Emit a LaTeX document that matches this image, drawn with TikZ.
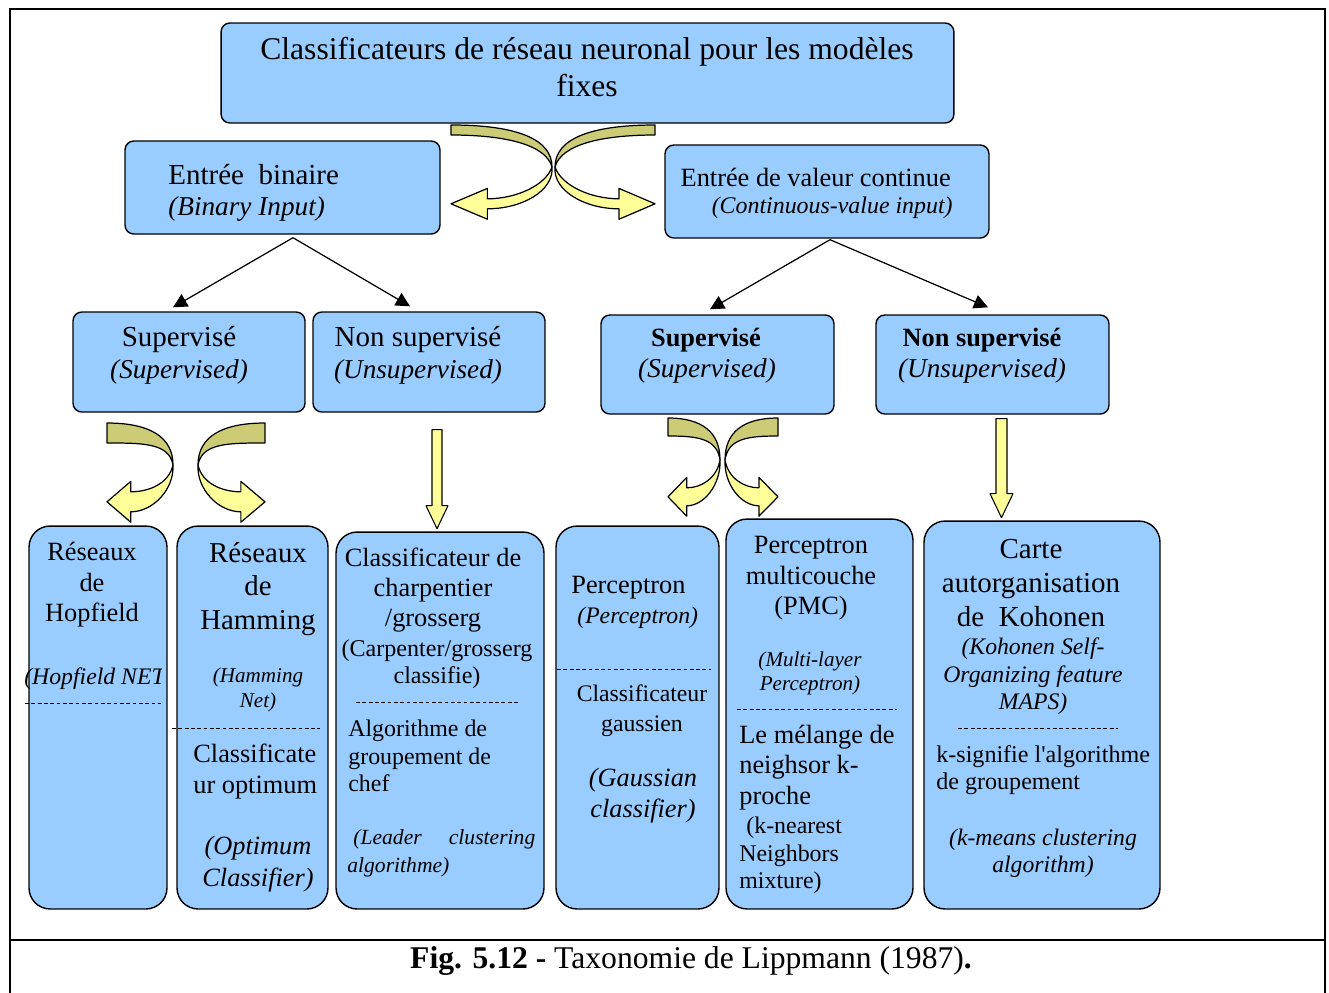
\documentclass[tikz,border=0pt]{standalone}
\usepackage{fontspec}
\setmainfont{Liberation Serif}[Ligatures=TeXOff]
\usetikzlibrary{arrows.meta, calc}

\definecolor{boxblue}{RGB}{153,204,255}
\definecolor{ribbonlight}{RGB}{255,255,153}
\definecolor{ribbondark}{RGB}{204,204,119}

\tikzset{
  box/.style={draw, line width=0.8pt, fill=boxblue, rounded corners=5pt, inner sep=0pt},
  tallbox/.style={box, rounded corners=12pt},
  conn/.style={line width=0.7pt, -{Triangle[length=8pt,width=8pt]}},
  sep/.style={dash pattern=on 2.2pt off 1.4pt, line width=0.5pt},
  yarrow/.style={draw, line width=0.6pt, fill=ribbonlight, line join=round},
  % twisted ribbon arrow, #1 = ribbon thickness
  pics/uturn/.style={code={
    \filldraw[fill=ribbondark, line width=0.7pt, line join=round]
      (-1,-1.05) .. controls (-0.35,-1.05) and (0,-0.7) .. (0,0)
      .. controls (-0.06,-0.55) and (-0.45,{-1.05+#1}) .. (-1,{-1.05+#1}) -- cycle;
    \filldraw[fill=ribbonlight, line width=0.7pt, line join=round]
      (0,0) .. controls (0.02,0.6) and (-0.3,{0.92+#1/2}) .. (-0.64,{0.92+#1/2})
      -- (-0.64,{1.18+#1/2}) -- (-1,0.92) -- (-0.64,{0.66-#1/2}) -- (-0.64,{0.92-#1/2})
      .. controls (-0.35,{0.92-#1/2}) and (-0.06,0.45) .. (0,0) -- cycle;
  }}
}

\begin{document}
\begin{tikzpicture}[x=0.02cm, y=-0.02cm, every node/.append style={inner sep=0pt}]
\useasboundingbox (0,0) rectangle (1329,992);

% Frame and caption rule
\draw[line width=1.2pt] (10,995) -- (10,9) -- (1325,9) -- (1325,995);
\draw[line width=1.2pt] (10,940) -- (1325,940);

% Top level
\node[box, minimum width=14.66cm, minimum height=2cm] (root) at (587.5,73) {};
\node[align=center, font=\fontsize{18}{21}\selectfont] (root-txt) at (587,67)
  {Classificateurs de réseau neuronal pour les modèles\\fixes};

% Input type
\node[box, minimum width=6.3cm, minimum height=1.86cm] (bin) at (282.5,187.5) {};
\node[anchor=west, font=\fontsize{16.5}{18}\selectfont] (bin-fr) at (168,175) {Entrée\ \ binaire};
\node[anchor=west, font=\fontsize{15.5}{18}\selectfont\itshape] (bin-en) at (168,209) {(Binary Input)};

\node[box, minimum width=6.48cm, minimum height=1.86cm] (cont) at (827,191.5) {};
\node[anchor=east, font=\fontsize{15}{17}\selectfont] (cont-fr) at (951,177) {Entrée de valeur continue};
\node[anchor=east, font=\fontsize{13.6}{17}\selectfont\itshape] (cont-en) at (953,208) {(Continuous-value input)};

% Supervised / unsupervised
\node[box, minimum width=4.64cm, minimum height=2cm] (sup1) at (189,362) {};
\node[font=\fontsize{16.5}{18}\selectfont] (sup1-fr) at (179,339) {Supervisé};
\node[font=\fontsize{15.5}{18}\selectfont\itshape] (sup1-en) at (179,372) {(Supervised)};

\node[box, minimum width=4.64cm, minimum height=2cm] (nsup1) at (429,362) {};
\node[font=\fontsize{16.5}{18}\selectfont] (nsup1-fr) at (418,339) {Non supervisé};
\node[font=\fontsize{15.5}{18}\selectfont\itshape] (nsup1-en) at (418,372) {(Unsupervised)};

\node[box, minimum width=4.66cm, minimum height=1.98cm] (sup2) at (717.5,364.5) {};
\node[font=\fontsize{15}{18}\selectfont\bfseries] (sup2-fr) at (706,340) {Supervisé};
\node[font=\fontsize{15.5}{18}\selectfont\itshape] (sup2-en) at (707,371) {(Supervised)};

\node[box, minimum width=4.66cm, minimum height=1.98cm] (nsup2) at (992.5,364.5) {};
\node[font=\fontsize{15}{18}\selectfont\bfseries] (nsup2-fr) at (982,340) {Non supervisé};
\node[font=\fontsize{15.5}{18}\selectfont\itshape] (nsup2-en) at (982,371) {(Unsupervised)};

\coordinate (binfoot) at ($(bin.south)+(10.5,3)$);
\coordinate (contfoot) at ($(cont.south)+(3,1)$);
\draw[conn] (binfoot) -- ($(sup1.north)+(-16,-4)$);
\draw[conn] (binfoot) -- ($(nsup1.north)+(-19,-5)$);
\draw[conn] (contfoot) -- ($(sup2.north)+(-7.5,-5)$);
\draw[conn] (contfoot) -- ($(nsup2.north)+(-4.5,-7)$);

% Classifiers
\node[tallbox, minimum width=2.76cm, minimum height=7.66cm] (hopf) at (98,717.5) {};
\node[tallbox, minimum width=3.02cm, minimum height=7.66cm] (hamm) at (252.5,717.5) {};
\node[tallbox, minimum width=4.16cm, minimum height=7.54cm] (carp) at (440,720.5) {};
\node[tallbox, minimum width=3.26cm, minimum height=7.66cm] (perc) at (637.5,717.5) {};
\node[tallbox, minimum width=3.74cm, minimum height=7.8cm] (pmc) at (819.5,714) {};
\node[tallbox, minimum width=4.72cm, minimum height=7.76cm] (koh) at (1042,715) {};

% Hopfield
\node[align=center, font=\fontsize{15}{17.3}\selectfont] (hopf-fr) at (92,585) {Réseaux\\de\\Hopfield};
\begin{scope}
  \clip (15,655) rectangle (161,700);
  \node[anchor=west, font=\fontsize{13.5}{15}\selectfont\itshape] (hopf-en) at (24,679) {(Hopfield NET)};
\end{scope}
\draw[sep] (25,703) -- (161,703);

% Hamming
\node[align=center, font=\fontsize{16.4}{19}\selectfont] (hamm-fr) at (258,589) {Réseaux\\de\\Hamming};
\node[align=center, font=\fontsize{12}{14.2}\selectfont\itshape] (hamm-en) at (258,690) {(Hamming\\Net)};
\draw[sep] (172,728) -- (320,728);
\node[anchor=west, align=left, font=\fontsize{15}{17.6}\selectfont] (opt-fr) at (193,771.5) {Classificate\\ur optimum};
\node[align=center, font=\fontsize{15}{18}\selectfont\itshape] (opt-en) at (258,864) {(Optimum\\Classifier)};

% Carpenter / Grossberg
\node[align=center, font=\fontsize{15}{17}\selectfont] (carp-fr) at (433,590) {Classificateur de\\charpentier\\/grosserg};
\node[align=center, font=\fontsize{13.7}{15.3}\selectfont] (carp-en) at (437,664.5) {(Carpenter/grosserg\\classifie)};
\draw[sep] (356,702) -- (518,702);
\node[anchor=west, align=left, font=\fontsize{13.6}{15.6}\selectfont] (lead-fr) at (348,756) {Algorithme de\\groupement de\\chef};
\node[anchor=west, font=\fontsize{12.3}{16}\selectfont\itshape] (lead-en) at (353,839) {\makebox[3.64cm][s]{(Leader clustering}};
\node[anchor=west, font=\fontsize{12.3}{16}\selectfont\itshape] (lead-en2) at (347,867) {algorithme)};

% Perceptron
\node[anchor=west, font=\fontsize{15}{17}\selectfont] (perc-fr) at (571,588) {Perceptron};
\node[anchor=west, font=\fontsize{13.5}{17}\selectfont\itshape] (perc-en) at (577,618) {(Perceptron)};
\draw[sep] (557,669) -- (711,669);
\node[align=center, font=\fontsize{13.5}{17}\selectfont] (gauss-fr) at (642,711) {Classificateur\\gaussien};
\node[align=center, font=\fontsize{15}{17.6}\selectfont\itshape] (gauss-en) at (643,796) {(Gaussian\\classifier)};

% Multi-layer perceptron
\node[align=center, font=\fontsize{15}{17.3}\selectfont] (pmc-fr) at (811,578.5) {Perceptron\\multicouche\\(PMC)};
\node[align=center, font=\fontsize{12}{13.6}\selectfont\itshape] (pmc-en) at (810,673) {(Multi-layer\\Perceptron)};
\draw[sep] (737,709) -- (897,709);
\node[anchor=west, align=left, font=\fontsize{15}{17.3}\selectfont] (knn-fr) at (739,767.5) {Le mélange de\\neighsor k-\\proche};
\node[anchor=west, align=left, font=\fontsize{13.6}{15.6}\selectfont] (knn-en) at (739,855.5) {\hspace{4pt}(k-nearest\\Neighbors\\mixture)};

% Kohonen
\node[align=center, font=\fontsize{16.5}{19.3}\selectfont] (koh-fr) at (1031,583) {Carte\\autorganisation\\de\ \ Kohonen};
\node[align=center, font=\fontsize{13.5}{15.6}\selectfont\itshape] (koh-en) at (1033,676.5) {(Kohonen Self-\\Organizing feature\\MAPS)};
\draw[sep] (958,728) -- (1118,728);
\node[anchor=west, align=left, font=\fontsize{13.7}{15.3}\selectfont] (km-fr) at (936,770.5) {k-signifie l'algorithme\\de groupement};
\node[align=center, font=\fontsize{13.5}{15.3}\selectfont\itshape] (km-en) at (1043,853.5) {(k-means clustering\\algorithm)};

% Ribbon arrows
\pic[xscale=101, yscale=40] at (552,167) {uturn=0.25};
\pic[xscale=-100, yscale=40] at (555,167) {uturn=0.25};
\pic[xscale=66, yscale=40] at (173,465) {uturn=0.5};
\pic[xscale=-67, yscale=40] at (198,465) {uturn=0.5};
\pic[xscale=52, yscale=40] at (720,460) {uturn=0.45};
\pic[xscale=-53, yscale=40] at (725,460) {uturn=0.45};

% Straight block arrows
\draw[yarrow] ($(nsup1.south)+(3,17)$) -- ++(10,0) -- ++(0,76) -- ++(6,0)
  -- ++(-11,23) -- ++(-11,-23) -- ++(6,0) -- cycle;
\draw[yarrow] ($(nsup2.south)+(3.5,4)$) -- ++(11,0) -- ++(0,75) -- ++(6,0)
  -- ++(-11.5,24) -- ++(-11.5,-24) -- ++(6,0) -- cycle;

% Caption
\node[font=\fontsize{18}{21}\selectfont] (caption) at (691,961)
  {\textbf{Fig. 5.12 -} Taxonomie de Lippmann (1987)\textbf{.}};

\end{tikzpicture}
\end{document}
